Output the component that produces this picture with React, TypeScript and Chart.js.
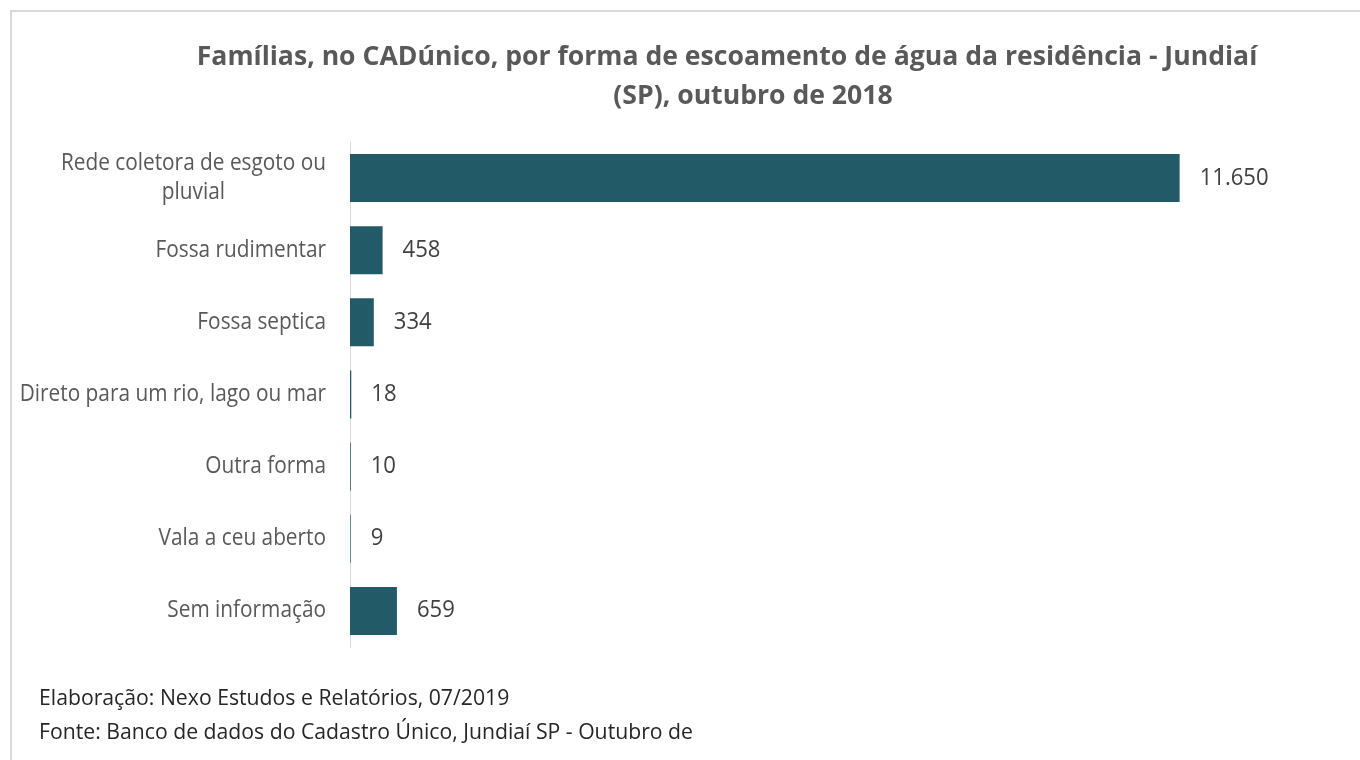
import React, { useEffect, useRef } from "react";
import { Chart, registerables } from "chart.js";

Chart.register(...registerables);

const titleLines = [
  "Famílias, no CADúnico, por forma de escoamento de água da residência - Jundiaí",
  "(SP), outubro de 2018",
];
const categories: (string | string[])[] = [
  ["Rede coletora de esgoto ou", "pluvial"],
  "Fossa rudimentar",
  "Fossa septica",
  "Direto para um rio, lago ou mar",
  "Outra forma",
  "Vala a ceu aberto",
  "Sem informação",
];
const values = [11650, 458, 334, 18, 10, 9, 659];
const footerLines = [
  "Elaboração: Nexo Estudos e Relatórios, 07/2019",
  "Fonte: Banco de dados do Cadastro Único, Jundiaí SP - Outubro de",
];
const xMax = 14000;

const FONT = '"Open Sans", "Noto Sans", sans-serif';
const BAR_COLOR = "#235a68";

function fmt(v: number): string {
  return String(v).replace(/\B(?=(\d{3})+(?!\d))/g, ".");
}

function drawText(
  ctx: CanvasRenderingContext2D,
  text: string,
  x: number,
  y: number,
  o: { size: number; weight?: string; color: string; align: "left" | "right" | "center"; sx: number }
) {
  ctx.save();
  ctx.font = `${o.weight || "normal"} ${o.size}px ${FONT}`;
  ctx.fillStyle = o.color;
  ctx.textBaseline = "middle";
  ctx.textAlign = o.align;
  ctx.translate(x, y);
  ctx.scale(o.sx, 1);
  ctx.fillText(text, 0, 0);
  ctx.restore();
}

function measure(ctx: CanvasRenderingContext2D, text: string, size: number, sx: number, weight = "normal") {
  ctx.save();
  ctx.font = `${weight} ${size}px ${FONT}`;
  const w = ctx.measureText(text).width * sx;
  ctx.restore();
  return w;
}

const overlay = {
  id: "overlay",
  afterDraw(chart: any) {
    const ctx: CanvasRenderingContext2D = chart.ctx;
    const area = chart.chartArea;
    // frame
    ctx.save();
    ctx.strokeStyle = "#d9d9d9";
    ctx.lineWidth = 2;
    ctx.strokeRect(11, 11, 1400, 800);
    ctx.restore();

    // title
    const tOpts = { size: 27, weight: "bold", color: "#595959", align: "center" as const, sx: 0.985 };
    drawText(ctx, titleLines[0], 727, 57, tOpts);
    drawText(ctx, titleLines[1], 753, 96, tOpts);

    // category labels
    const yScale = chart.scales.y;
    const lOpts = { size: 23, color: "#595959", align: "center" as const, sx: 0.905 };
    const rightEdge = area.left - 24;
    categories.forEach((c, i) => {
      const lines = Array.isArray(c) ? c : [c];
      const yc = yScale.getPixelForValue(i);
      const maxW = Math.max(...lines.map((l) => measure(ctx, l, lOpts.size, lOpts.sx)));
      const cx = rightEdge - maxW / 2;
      const lh = 29;
      lines.forEach((l, j) => {
        const y = yc + (j - (lines.length - 1) / 2) * lh;
        drawText(ctx, l, cx, y, lOpts);
      });
    });

    // value labels
    const meta = chart.getDatasetMeta(0);
    meta.data.forEach((bar: any, i: number) => {
      drawText(ctx, fmt(values[i]), bar.x + 20, bar.y, { size: 23, color: "#404040", align: "left", sx: 0.96 });
    });

    // footer
    const fOpts = { size: 21, color: "#262626", align: "left" as const, sx: 1.01 };
    drawText(ctx, footerLines[0], 39, 699, fOpts);
    drawText(ctx, footerLines[1], 39, 733, fOpts);
  },
};

export default function App() {
  const ref = useRef<HTMLCanvasElement | null>(null);
  useEffect(() => {
    if (!ref.current) return;
    const chart = new Chart(ref.current, {
      type: "bar",
      data: {
        labels: categories as any,
        datasets: [
          {
            data: values,
            backgroundColor: BAR_COLOR,
            borderWidth: 0,
            barPercentage: 0.665,
            categoryPercentage: 1,
          },
        ],
      },
      options: {
        indexAxis: "y",
        responsive: false,
        animation: false,
        devicePixelRatio: 1,
        layout: { padding: { left: 350, top: 142, bottom: 113, right: 13 } },
        plugins: { legend: { display: false }, title: { display: false }, tooltip: { enabled: false } },
        scales: {
          x: { display: false, min: 0, max: xMax },
          y: {
            display: true,
            ticks: { display: false },
            grid: { display: false, drawTicks: false },
            border: { display: true, color: "#d9d9d9", width: 1 },
            afterFit: (s: any) => {
              s.width = 0;
            },
          },
        },
      },
      plugins: [overlay],
    });
    return () => chart.destroy();
  }, []);
  return (
    <div style={{ position: "absolute", left: 0, top: 0, width: 1360, height: 760, background: "#fff" }}>
      <canvas ref={ref} width={1360} height={760} style={{ display: "block" }} />
    </div>
  );
}
